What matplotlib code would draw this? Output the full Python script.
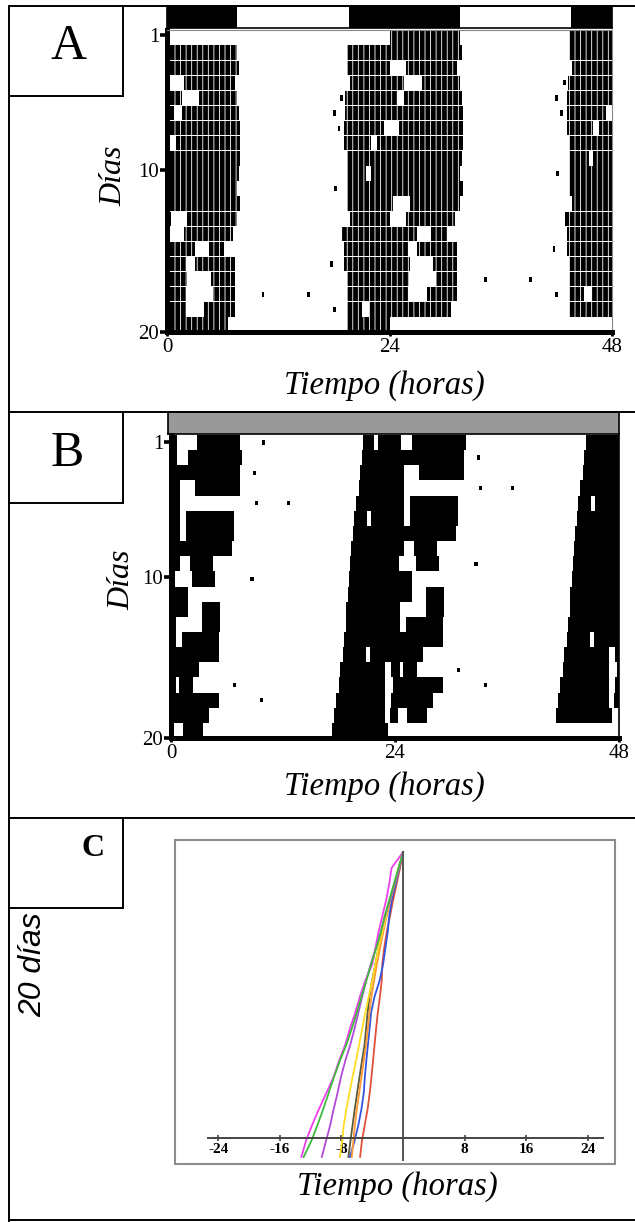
import numpy as np
import matplotlib
matplotlib.use('Agg')
import matplotlib.pyplot as plt

plt.rcParams['font.family'] = ['Liberation Serif', 'DejaVu Serif']
plt.rcParams['hatch.color'] = 'white'
plt.rcParams['hatch.linewidth'] = 0.6

W, H = 635, 1222

# ---------------- panel A: LD 12:12 ----------------
ld_lights_on = 7.6
ld_lights_off = 19.6
a_first_night = 1
# onset (h) and offset (h after next midnight) of each night's activity
a_onset = [19.5, 19.4, 19.4, 19.7, 19.2, 19.2, 19.1, 19.1, 19.4, 19.4,
           19.4, 19.4, 19.7, 18.9, 19.1, 19.1, 19.4, 19.4, 19.4, 19.4]
a_offset = [7.6, 7.8, 7.3, 7.6, 7.8, 7.9, 7.9, 7.9, 7.8, 7.6,
            7.9, 7.6, 7.1, 6.2, 7.3, 7.3, 7.3, 7.3, 6.6, 7.0]
a_gaps = {3: [(24.0, 25.8)], 4: [(25.6, 27.5)], 5: [(24.8, 25.6)],
          7: [(23.4, 25.0)], 8: [(22.0, 22.6)], 10: [(21.5, 22.0)],
          12: [(24.4, 26.2)], 13: [(24.0, 25.8)], 14: [(27.0, 28.5)],
          15: [(26.0, 27.0)], 16: [(26.2, 28.7)], 17: [(26.1, 29.0)],
          18: [(26.0, 28.0)], 19: [(21.0, 21.8)]}
a_sporadic = [(5, 18.7), (6, 17.9), (7, 18.4), (11, 18.0), (16, 17.6),
              (18, 10.2), (18, 15.1), (19, 17.9)]
a_record = (24, 480)

# ---------------- panel B: DD (free running) ----------------
b_first_night = 0
b_onset = [21.0, 20.6, 20.5, 20.2, 20.1, 19.8, 19.6, 19.5, 19.3, 19.2, 19.1,
           19.0, 18.8, 18.7, 18.5, 18.4, 18.1, 18.0, 17.7, 17.5, 17.3]
b_offset = [7.4, 7.6, 7.4, 7.4, 1.0, 6.7, 6.7, 6.5, 4.5, 4.7, 1.8,
            5.2, 5.2, 5.1, 5.1, 3.0, 2.4, 5.1, 4.1, 3.4, 4.0]
b_gaps = {0: [(24.6, 26.8)], 1: [(21.7, 22.2), (24.6, 25.8)], 3: [(25.0, 26.6)],
          5: [(25.0, 25.6)], 6: [(21.0, 21.4), (25.0, 25.6)], 8: [(25.0, 26.0)],
          9: [(24.4, 26.2)], 11: [(25.8, 27.3)], 12: [(24.5, 27.3)],
          13: [(24.5, 25.2)], 15: [(20.9, 21.3)], 16: [(22.9, 23.6), (24.5, 24.9)],
          17: [(22.9, 23.8)], 18: [(22.9, 23.6)], 19: [(22.9, 23.5), (24.3, 25.3)],
          20: [(23.3, 24.5)]}
b_sporadic = [(1, 9.7), (3, 8.8), (5, 12.4), (5, 9.0), (10, 8.5), (17, 6.6), (18, 9.5)]
b_record = (0, 480)

n_rows = 20
day_ticks = [1, 10, 20]
hour_ticks = [0, 24, 48]

# ---------------- panel C: activity onsets, 20 days ----------------
c_days = np.arange(1, 21)
c_green = [0, -0.6, -1.2, -1.8, -2.4, -2.9, -3.5, -4.15, -4.75, -5.4, -6.0, -6.65,
           -7.35, -8.2, -8.95, -9.65, -10.35, -11.1, -11.9, -12.9]
c_magenta = [0, -1.5, -1.8, -2.2, -2.7, -3.2, -3.6, -4.0, -4.9, -5.6, -6.2, -6.9,
             -7.5, -8.3, -9.0, -9.95, -10.9, -11.8, -12.6, -13.2]
c_violet = [0, -0.55, -1.15, -1.7, -2.35, -2.9, -3.55, -4.2, -4.8, -5.3, -5.8, -6.3,
            -6.85, -7.5, -8.05, -8.5, -9.0, -9.45, -10.0, -10.55]
c_yellow = [0, -0.6, -1.15, -1.7, -2.2, -2.7, -3.2, -3.6, -4.0, -4.45, -4.9, -5.3,
            -5.7, -6.1, -6.55, -6.95, -7.35, -7.7, -7.9, -8.2]
c_orange = [0, -0.53, -1.1, -1.66, -2.15, -2.57, -3.0, -3.4, -3.76, -4.1, -4.37, -4.57,
            -4.8, -5.1, -5.4, -5.7, -6.0, -6.25, -6.45, -6.66]
c_blue = [0, -0.48, -0.97, -1.47, -1.8, -2.0, -2.3, -2.6, -3.04, -3.7, -4.15, -4.35,
          -4.56, -4.77, -4.96, -5.1, -5.4, -5.8, -6.3, -6.9]
c_red = [0, -0.4, -0.85, -1.3, -1.7, -2.13, -2.46, -2.7, -2.77, -3.0, -3.28, -3.5,
         -3.7, -3.9, -4.1, -4.33, -4.6, -4.97, -5.34, -5.58]
c_dark = [0, -0.52, -1.07, -1.6, -2.17, -2.72, -3.2, -3.6, -4.03, -4.37, -4.6, -4.8,
          -5.0, -5.33, -5.65, -5.96, -6.27, -6.55, -6.83, -7.1]
c_ticks = [-24, -16, -8, 0, 8, 16, 24]


def px_axes(fig, x0, y0, x1, y1):
    return fig.add_axes([x0 / W, 1 - y1 / H, (x1 - x0) / W, (y1 - y0) / H])


def night_bouts(first, onsets, offsets, gaps):
    bouts = []
    for i, (on, off) in enumerate(zip(onsets, offsets)):
        night = first + i
        base = (night - 1) * 24
        segs = [(on, off + 24)]
        for g0, g1 in gaps.get(night, []):
            new = []
            for s0, s1 in segs:
                if g1 <= s0 or g0 >= s1:
                    new.append((s0, s1))
                    continue
                if g0 > s0:
                    new.append((s0, g0))
                if g1 < s1:
                    new.append((g1, s1))
            segs = new
        bouts += [(base + s0, base + s1) for s0, s1 in segs]
    return bouts


def draw_rows(ax, bouts, record, bar_h, **kw):
    # double plot: row r shows day r and day r+1
    for r in range(1, n_rows + 1):
        w0 = (r - 1) * 24
        xr = []
        for s, e in bouts:
            s = max(s, w0, record[0])
            e = min(e, w0 + 48, record[1])
            if e > s:
                xr.append((s - w0, e - s))
        if xr:
            ax.broken_barh(xr, (r - 1 + (1 - bar_h) / 2, bar_h), **kw)


def style_actogram(ax, ytick_pos, right_color, right_lw):
    ax.set_xlim(0, 48)
    ax.set_ylim(n_rows, 0)
    for s in ['left', 'bottom']:
        ax.spines[s].set_linewidth(3.6)
    ax.spines['top'].set_color('#888888')
    ax.spines['top'].set_linewidth(0.8)
    ax.spines['right'].set_color(right_color)
    ax.spines['right'].set_linewidth(right_lw)
    ax.set_yticks(ytick_pos)
    ax.set_yticklabels([str(d) for d in day_ticks])
    ax.set_xticks(hour_ticks)
    ax.set_xticklabels([str(h) for h in hour_ticks])
    ax.tick_params(axis='y', direction='out', length=5, width=2.6, labelsize=15, pad=0.5)
    ax.tick_params(axis='x', direction='out', length=3, width=2, labelsize=15, pad=1)


fig = plt.figure(figsize=(W / 100, H / 100), dpi=100)

# ---------- A ----------
ax_ld = px_axes(fig, 167, 6, 612, 28)
dark = []
for d in (-1, 0, 1):
    s = max(d * 24 + ld_lights_off, 0)
    e = min((d + 1) * 24 + ld_lights_on, 48)
    if e > s:
        dark.append((s, e - s))
ax_ld.broken_barh(dark, (0, 1), facecolors='black')
ax_ld.set_xlim(0, 48)
ax_ld.set_ylim(0, 1)
ax_ld.set_xticks([])
ax_ld.set_yticks([])
for s in ax_ld.spines.values():
    s.set_linewidth(1.2)

ax_a = px_axes(fig, 167, 30, 612, 332)
draw_rows(ax_a, night_bouts(a_first_night, a_onset, a_offset, a_gaps), a_record, 0.95,
          facecolors='black', edgecolors='white', linewidth=0, hatch='|||')
draw_rows(ax_a, [((d - 1) * 24 + h, (d - 1) * 24 + h + 0.3) for d, h in a_sporadic],
          a_record, 0.35, facecolors='black')
style_actogram(ax_a, [0.33, 9.27, 20], '#888888', 0.8)

# ---------- B ----------
ax_gb = px_axes(fig, 168, 412, 619, 434)
ax_gb.set_facecolor('#999999')
ax_gb.set_xticks([])
ax_gb.set_yticks([])
for s in ax_gb.spines.values():
    s.set_linewidth(1.2)

ax_b = px_axes(fig, 171, 435, 619, 738)
draw_rows(ax_b, night_bouts(b_first_night, b_onset, b_offset, b_gaps), b_record, 1.0,
          facecolors='black', linewidth=0)
draw_rows(ax_b, [((d - 1) * 24 + h, (d - 1) * 24 + h + 0.35) for d, h in b_sporadic],
          b_record, 0.3, facecolors='black')
style_actogram(ax_b, [0.45, 9.4, 20], 'black', 1.2)
ax_b.spines['top'].set_visible(False)

# ---------- C ----------
ax_c = px_axes(fig, 175, 840, 615, 1164)
ax_c.set_xlim(-29.6, 27.5)
ax_c.set_ylim(20.44, 0.25)
series = [(c_dark, '#5a5a3a'), (c_red, '#e0503a'), (c_blue, '#3355dd'),
          (c_orange, '#ff9933'), (c_yellow, '#ffdd22'), (c_violet, '#b24ad8'),
          (c_magenta, '#ee3fee'), (c_green, '#3dbb3d')]
for vals, col in series:
    ax_c.plot(vals, c_days, color=col, lw=1.3)
ax_c.vlines(0, 0.95, 20.25, color='#555555', lw=1.4)
for s in ['left', 'right', 'top']:
    ax_c.spines[s].set_visible(False)
ax_c.spines['bottom'].set_position(('data', 18.8))
ax_c.spines['bottom'].set_bounds(-25.3, 26)
ax_c.spines['bottom'].set_color('#444444')
ax_c.spines['bottom'].set_linewidth(1.4)
ax_c.add_patch(plt.Rectangle((0, 0), 1, 1, transform=ax_c.transAxes, fill=False,
                             ec='#8c8c8c', lw=1.5, clip_on=False))
ax_c.set_yticks([])
ax_c.set_xticks(c_ticks)
ax_c.set_xticklabels([str(t) if t != 0 else '' for t in c_ticks], fontweight='bold')
ax_c.tick_params(axis='x', direction='inout', length=5, width=1.2, color='#444444',
                 labelsize=11, pad=1)

# ---------- frame, boxes and labels (pixel coordinates) ----------
ov = fig.add_axes([0, 0, 1, 1])
ov.set_xlim(0, W)
ov.set_ylim(H, 0)
ov.axis('off')
ov.patch.set_alpha(0)
lw = 1.4
for x0, y0, x1, y1 in [(9, 6, 635, 6), (9, 6, 9, 1222), (9, 412, 635, 412),
                       (9, 818, 635, 818), (9, 1220, 635, 1220),
                       (123, 6, 123, 96), (9, 96, 123, 96),
                       (123, 412, 123, 503), (9, 503, 123, 503),
                       (123, 818, 123, 908), (9, 908, 123, 908)]:
    ov.plot([x0, x1], [y0, y1], color='black', lw=lw, solid_capstyle='projecting')

ov.text(69, 47, 'A', fontsize=36, ha='center', va='center')
ov.text(67, 454, 'B', fontsize=36, ha='center', va='center')
ov.text(93, 848, 'C', fontsize=23, fontweight='bold', ha='center', va='center')
ov.text(114, 176, 'Días', fontsize=23, style='italic', rotation=90, ha='center', va='center')
ov.text(122, 580, 'Días', fontsize=23, style='italic', rotation=90, ha='center', va='center')
ov.text(384, 386, 'Tiempo (horas)', fontsize=23.5, style='italic', ha='center', va='center')
ov.text(384, 787, 'Tiempo (horas)', fontsize=23.5, style='italic', ha='center', va='center')
ov.text(397, 1187, 'Tiempo (horas)', fontsize=23.5, style='italic', ha='center', va='center')
ov.text(33, 965, '20 días', fontsize=23, style='italic', rotation=90, ha='center',
        va='center', family=['Liberation Sans', 'DejaVu Sans'])

fig.savefig('out.png', dpi=100)
